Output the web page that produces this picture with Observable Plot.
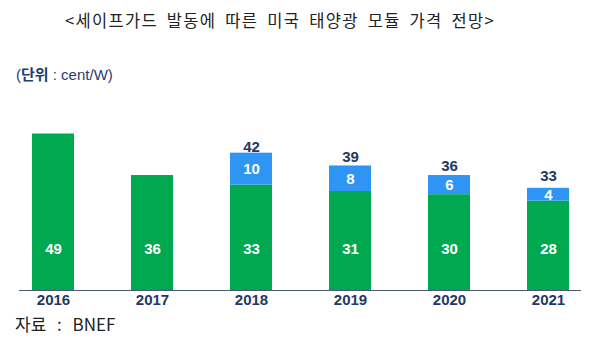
<!DOCTYPE html>
<html><head><meta charset="utf-8">
<script src="https://cdn.jsdelivr.net/npm/d3@7"></script>
<script src="https://cdn.jsdelivr.net/npm/@observablehq/plot@0.6"></script>
<style>
body{margin:0;background:#fff;width:600px;height:353px;overflow:hidden;font-family:"Noto Sans CJK KR",sans-serif;}
#title{position:absolute;left:0;top:8px;width:560px;text-align:center;font-size:16.5px;letter-spacing:1.3px;word-spacing:4px;color:#222;line-height:24px;}
#unit{position:absolute;left:16px;top:64px;font-family:"Liberation Sans",Arial,sans-serif;font-size:15px;color:#1f3f73;line-height:20px;}
#unit b{font-family:"Noto Sans CJK KR",sans-serif;font-weight:700;}
#chart{position:absolute;left:0;top:88px;}
#source{position:absolute;left:15px;top:313px;font-size:17px;color:#222;line-height:22px;word-spacing:7px;}
</style></head>
<body>
<div id="title">&lt;세이프가드 발동에 따른 미국 태양광 모듈 가격 전망&gt;</div>
<div id="unit">(<b>단위</b> : cent/W)</div>
<div id="chart"></div>
<div id="source">자료 : BNEF</div>
<script>
const years = ["2016","2017","2018","2019","2020","2021"];
const basePrice = [49, 36, 33, 31, 30, 28];
const tariff = [0, 0, 10, 8, 6, 4];
const totals = [null, null, 42, 39, 36, 33];

const rows = [];
years.forEach((y, i) => {
  rows.push({year: y, part: "base", value: basePrice[i]});
  if (tariff[i] > 0) rows.push({year: y, part: "tariff", value: tariff[i]});
});
const baseRows = years.map((y, i) => ({year: y, v: basePrice[i]}));
const tariffRows = years.map((y, i) => ({year: y, lo: basePrice[i], hi: basePrice[i] + tariff[i], v: tariff[i]})).filter(d => d.v > 0);
const totalRows = years.map((y, i) => ({year: y, t: totals[i]})).filter(d => d.t != null);

const chart = Plot.plot({
  width: 600, height: 224,
  marginLeft: 19, marginRight: 19, marginTop: 4, marginBottom: 22,
  x: {domain: years, paddingInner: 0.576, paddingOuter: 0.126, label: null, tickSize: 0, tickPadding: 5},
  y: {domain: [0, 62], axis: null},
  style: {fontFamily: "'Liberation Sans', Arial, sans-serif"},
  marks: [
    Plot.barY(rows, {x: "year", y: "value", fill: d => d.part === "base" ? "#00a94f" : "#2f95f4", order: ["base","tariff"]}),
    Plot.ruleY([0], {stroke: "#4a5a70", strokeWidth: 1.2}),
    Plot.text(baseRows, {x: "year", frameAnchor: "bottom", dy: -37, text: d => String(d.v), fill: "white", fontSize: 15, fontWeight: "bold"}),
    Plot.text(tariffRows, {x: "year", y: d => (d.lo + d.hi) / 2, text: d => String(d.v), fill: "white", fontSize: 15, fontWeight: "bold"}),
    Plot.text(totalRows, {x: "year", y: "t", text: d => String(d.t), dy: -9, fill: "#1f3864", fontSize: 15, fontWeight: "bold"}),
    Plot.axisX({tickSize: 0, tickPadding: 4, fontSize: 15, fontWeight: "bold", color: "#1f3864", label: null})
  ]
});
chart.querySelectorAll("[aria-label='x-axis tick label'] text").forEach(t => { t.setAttribute("fill", "#1f3864"); });
document.getElementById("chart").appendChild(chart);
</script>
</body></html>
